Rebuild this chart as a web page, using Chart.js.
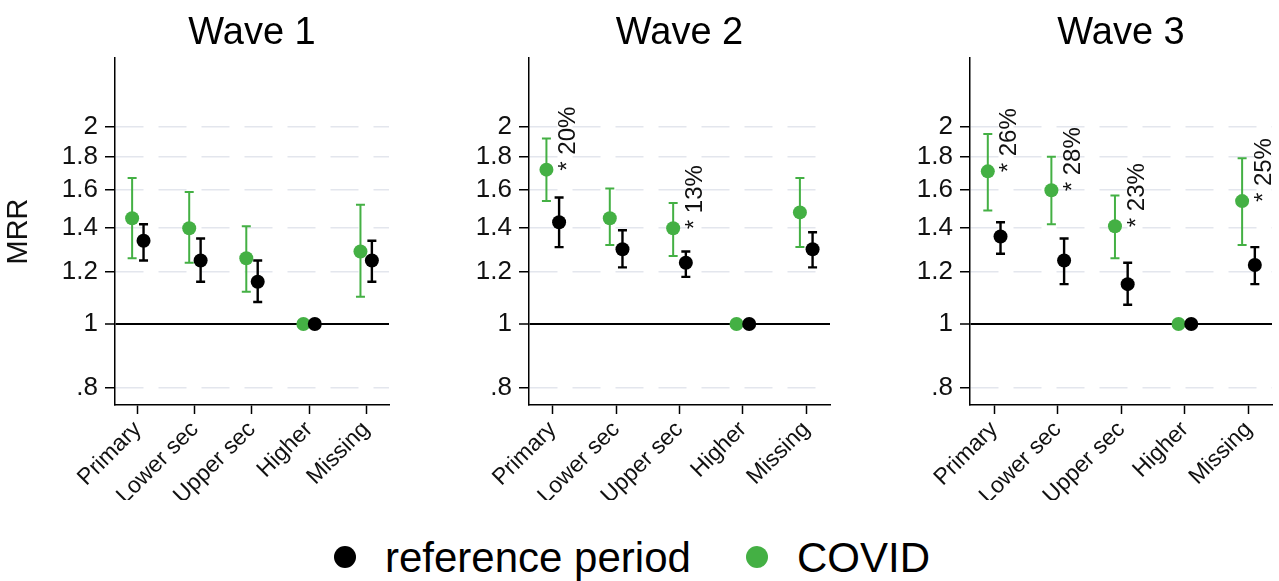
<!DOCTYPE html>
<html>
<head>
<meta charset="utf-8">
<script src="https://cdn.jsdelivr.net/npm/chart.js@4"></script>
<style>
  body { margin: 0; background: #fff; width: 1279px; height: 581px; overflow: hidden; position: relative;
         font-family: "Liberation Sans", Arial, sans-serif; }
  .panel { position: absolute; top: 0; height: 500px; }
  .dot { position: absolute; width: 22px; height: 22px; border-radius: 50%; top: 546px; }
  .key { position: absolute; top: 537px; height: 42px; line-height: 42px; font-size: 42px; color: #000; white-space: nowrap; }
</style>
</head>
<body>
<div class="panel" style="left:0;width:426px"><canvas id="wave1" width="426" height="500"></canvas></div>
<div class="panel" style="left:426px;width:426px"><canvas id="wave2" width="426" height="500"></canvas></div>
<div class="panel" style="left:852px;width:427px"><canvas id="wave3" width="427" height="500"></canvas></div>

<span class="dot" style="left:334px;background:#000"></span>
<span class="key" style="left:385px">reference period</span>
<span class="dot" style="left:746px;background:#44b044"></span>
<span class="key" style="left:797px">COVID</span>

<script>
const categories = ['Primary', 'Lower sec', 'Upper sec', 'Higher', 'Missing'];
const yTicks = [0.8, 1, 1.2, 1.4, 1.6, 1.8, 2];
const yTickLabels = ['.8', '1', '1.2', '1.4', '1.6', '1.8', '2'];

// wave 1
const covid1   = [1.45, 1.40, 1.26, 1, 1.29];
const covid1Lo = [1.26, 1.24, 1.12, null, 1.10];
const covid1Hi = [1.67, 1.59, 1.41, null, 1.52];
const ref1     = [1.34, 1.25, 1.16, 1, 1.25];
const ref1Lo   = [1.25, 1.16, 1.08, null, 1.16];
const ref1Hi   = [1.42, 1.35, 1.25, null, 1.34];
const notes1   = ['', '', '', '', ''];

// wave 2
const covid2   = [1.72, 1.45, 1.40, 1, 1.48];
const covid2Lo = [1.54, 1.32, 1.27, null, 1.31];
const covid2Hi = [1.92, 1.61, 1.53, null, 1.67];
const ref2     = [1.43, 1.30, 1.24, 1, 1.30];
const ref2Lo   = [1.31, 1.22, 1.18, null, 1.22];
const ref2Hi   = [1.56, 1.39, 1.29, null, 1.38];
const notes2   = ['* 20%', '', '* 13%', '', ''];

// wave 3
const covid3   = [1.71, 1.60, 1.41, 1, 1.54];
const covid3Lo = [1.49, 1.42, 1.26, null, 1.32];
const covid3Hi = [1.95, 1.80, 1.57, null, 1.79];
const ref3     = [1.36, 1.25, 1.15, 1, 1.23];
const ref3Lo   = [1.28, 1.15, 1.07, null, 1.15];
const ref3Hi   = [1.43, 1.35, 1.24, null, 1.31];
const notes3   = ['* 26%', '* 28%', '* 23%', '', '* 25%'];

const GREEN = '#44b044';
const BLACK = '#000000';
const FONT = '"Liberation Sans", Arial, sans-serif';
Chart.defaults.font.family = FONT;

// vertical CI bars with caps, drawn just before each dataset's points
const errorBars = {
  id: 'errorBars',
  beforeDatasetDraw(chart, args) {
    const ds = chart.data.datasets[args.index];
    const {ctx} = chart;
    const xs = chart.scales.x, ys = chart.scales.y;
    ctx.save();
    ctx.strokeStyle = ds.borderColor;
    ctx.lineWidth = ds.barWidth;
    ds.lo.forEach((lo, i) => {
      if (lo == null) return;
      const px = xs.getPixelForValue(ds.data[i].x);
      const y0 = ys.getPixelForValue(lo);
      const y1 = ys.getPixelForValue(ds.hi[i]);
      ctx.beginPath();
      ctx.moveTo(px, y0); ctx.lineTo(px, y1);
      ctx.moveTo(px - 4.5, y0); ctx.lineTo(px + 4.5, y0);
      ctx.moveTo(px - 4.5, y1); ctx.lineTo(px + 4.5, y1);
      ctx.stroke();
    });
    ctx.restore();
  }
};

const panelTitle = {
  id: 'panelTitle',
  afterDraw(chart, args, opts) {
    const {ctx, chartArea} = chart;
    ctx.save();
    ctx.font = '38px ' + FONT;
    ctx.fillStyle = '#000';
    ctx.textAlign = 'center';
    ctx.textBaseline = 'alphabetic';
    ctx.fillText(opts.text, (chartArea.left + chartArea.right) / 2, 44);
    ctx.restore();
  }
};

// rotated "* nn%" notes beside the COVID points
const notesPlugin = {
  id: 'notes',
  afterDatasetsDraw(chart, args, opts) {
    const {ctx} = chart;
    const xs = chart.scales.x, ys = chart.scales.y;
    const covid = chart.data.datasets[1].data;
    ctx.save();
    ctx.font = '24px ' + FONT;
    ctx.fillStyle = '#111';
    ctx.textAlign = 'left';
    ctx.textBaseline = 'middle';
    opts.labels.forEach((txt, i) => {
      if (!txt) return;
      const px = xs.getPixelForValue(covid[i].x) + 22;
      const py = ys.getPixelForValue(covid[i].y) + 1;
      ctx.save();
      ctx.translate(px, py);
      ctx.rotate(-Math.PI / 2);
      ctx.fillText(txt, 0, 0);
      ctx.restore();
    });
    ctx.restore();
  }
};

function makePanel(id, title, covid, covidLo, covidHi, ref, refLo, refHi, notes, cfg) {
  return new Chart(document.getElementById(id), {
    type: 'scatter',
    data: {
      datasets: [
        {
          label: 'reference period',
          data: ref.map((v, i) => ({x: i + 0.1, y: v})),
          lo: refLo, hi: refHi, barWidth: 2.4,
          backgroundColor: BLACK, borderColor: BLACK,
          pointRadius: 7, pointHoverRadius: 7, borderWidth: 0
        },
        {
          label: 'COVID',
          data: covid.map((v, i) => ({x: i - 0.1, y: v})),
          lo: covidLo, hi: covidHi, barWidth: 2,
          backgroundColor: GREEN, borderColor: GREEN,
          pointRadius: 7, pointHoverRadius: 7, borderWidth: 0
        }
      ]
    },
    options: {
      responsive: false,
      animation: false,
      devicePixelRatio: 1,
      layout: {padding: {top: 58, right: cfg.padRight, left: 0, bottom: 0}},
      plugins: {
        legend: {display: false},
        tooltip: {enabled: false},
        panelTitle: {text: title},
        notes: {labels: notes}
      },
      scales: {
        x: {
          type: 'linear',
          min: cfg.xMin, max: cfg.xMax,
          afterFit: s => { s.height = 95; },
          afterBuildTicks: s => { s.ticks = categories.map((c, i) => ({value: i})); },
          ticks: {
            callback: (v, i) => categories[i],
            autoSkip: false, maxRotation: 45, minRotation: 45,
            font: {size: 23}, color: '#111', padding: 2
          },
          grid: {drawOnChartArea: false, tickLength: 9, tickColor: '#000', tickWidth: 1.5},
          border: {color: '#000', width: 1.5}
        },
        y: {
          type: 'logarithmic',
          min: 0.752, max: 2.547,
          afterFit: s => { s.width = cfg.yWidth; },
          afterBuildTicks: s => { s.ticks = yTicks.map(v => ({value: v})); },
          ticks: {
            callback: v => yTickLabels[yTicks.indexOf(v)],
            font: {size: 26}, color: '#111', padding: 7
          },
          grid: {
            color: c => (c.tick && c.tick.value === 1) ? '#000' : '#e3e6ed',
            lineWidth: c => (c.tick && c.tick.value === 1) ? 2 : 1.5,
            tickLength: 10, tickColor: '#000', tickWidth: 1.5
          },
          border: {
            color: '#000', width: 1.5,
            dash: c => (c.type === 'tick' && c.tick.value !== 1) ? [28, 15] : []
          },
          title: {display: cfg.yTitle, text: 'MRR', font: {size: 29}, color: '#111', padding: {top: 2, bottom: 0}}
        }
      }
    },
    plugins: [errorBars, panelTitle, notesPlugin]
  });
}

makePanel('wave1', 'Wave 1', covid1, covid1Lo, covid1Hi, ref1, ref1Lo, ref1Hi, notes1,
  {yWidth: 115, padRight: 37, xMin: -0.4, xMax: 4.4, yTitle: true});
makePanel('wave2', 'Wave 2', covid2, covid2Lo, covid2Hi, ref2, ref2Lo, ref2Hi, notes2,
  {yWidth: 103, padRight: 22, xMin: -0.375, xMax: 4.375, yTitle: false});
makePanel('wave3', 'Wave 3', covid3, covid3Lo, covid3Hi, ref3, ref3Lo, ref3Hi, notes3,
  {yWidth: 118, padRight: 7, xMin: -0.38, xMax: 4.37, yTitle: false});
</script>
</body>
</html>
